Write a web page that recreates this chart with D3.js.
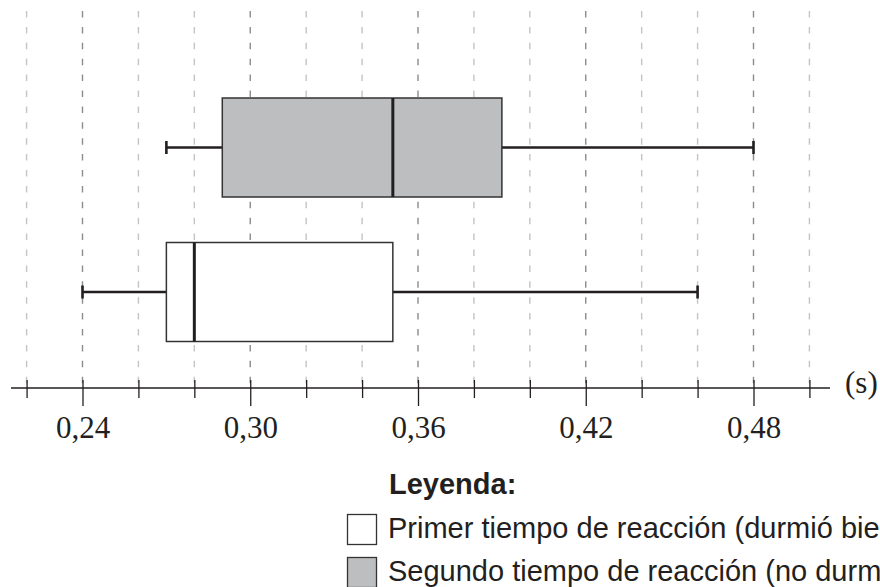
<!DOCTYPE html>
<html>
<head>
<meta charset="utf-8">
<script src="https://cdn.jsdelivr.net/npm/d3@7"></script>
<style>
  html, body { margin: 0; padding: 0; background: #fff; overflow: hidden; }
  svg { display: block; }
</style>
</head>
<body>
<script>
// data (seconds)
const groups = ['Segundo', 'Primer']
const mins = [0.27, 0.24]
const q1s = [0.29, 0.27]
const medians = [0.351, 0.28]
const q3s = [0.39, 0.351]
const maxs = [0.48, 0.46]
const fills = ['#bcbec0', '#ffffff']

const majorTicks = [0.24, 0.30, 0.36, 0.42, 0.48]
const allTicks = [0.22, 0.24, 0.26, 0.28, 0.30, 0.32, 0.34, 0.36, 0.38, 0.40, 0.42, 0.44, 0.46, 0.48, 0.50]

const legendTitle = 'Leyenda:'
const legendLabels = [
  'Primer tiempo de reacción (durmió bien)',
  'Segundo tiempo de reacción (no durmió bien)',
]
const legendFills = ['#ffffff', '#bcbec0']

const width = 880
const height = 587
const axisY = 388
const ink = '#231f20'

const svg = d3.select('body').append('svg')
  .attr('width', width)
  .attr('height', height)

const x = d3.scaleLinear().domain([0.24, 0.48]).range([82.5, 753.5])
const y = d3.scalePoint().domain(groups).range([147.5, 292])
const halfBox = 49.5

const isMajor = (v) => majorTicks.some((m) => Math.abs(m - v) < 1e-9)

// dashed grid
svg.append('g')
  .selectAll('line')
  .data(allTicks)
  .join('line')
  .attr('x1', (d) => x(d))
  .attr('x2', (d) => x(d))
  .attr('y1', 11)
  .attr('y2', axisY)
  .attr('stroke', (d) => (isMajor(d) ? '#8c8c8c' : '#c4c4c4'))
  .attr('stroke-width', 1.4)
  .attr('stroke-dasharray', '6.5 9.4')

// axis
svg.append('line')
  .attr('x1', 11).attr('x2', 830)
  .attr('y1', axisY).attr('y2', axisY)
  .attr('stroke', ink).attr('stroke-width', 1.3)

const axis = d3.axisBottom(x)
  .tickValues(allTicks)
  .tickSize(10)
  .tickFormat((d) => (isMajor(d) ? d3.format('.2f')(d).replace('.', ',') : ''))

const gAxis = svg.append('g')
  .attr('transform', `translate(0,${axisY})`)
  .call(axis)
gAxis.select('.domain').remove()
gAxis.selectAll('.tick line')
  .attr('y1', -8)
  .attr('y2', (d) => (isMajor(d) ? 18 : 10))
  .attr('stroke', ink)
  .attr('stroke-width', 1.3)
gAxis.selectAll('.tick text')
  .attr('y', 50)
  .attr('dy', 0)
  .attr('fill', ink)
  .style('font-family', '"Liberation Serif", "DejaVu Serif", serif')
  .style('font-size', '31px')

svg.append('text')
  .attr('x', 845).attr('y', 393)
  .attr('fill', ink)
  .style('font-family', '"Liberation Serif", serif')
  .style('font-size', '31px')
  .text('(s)')

// boxplots
const boxes = svg.append('g')
  .selectAll('g')
  .data(groups)
  .join('g')

boxes.append('line')
  .attr('x1', (d, i) => x(mins[i]))
  .attr('x2', (d, i) => x(maxs[i]))
  .attr('y1', (d) => y(d))
  .attr('y2', (d) => y(d))
  .attr('stroke', ink)
  .attr('stroke-width', 2.6)

boxes.selectAll('.cap')
  .data((d, i) => [mins[i], maxs[i]].map((v) => ({ v, g: d })))
  .join('line')
  .attr('class', 'cap')
  .attr('x1', (c) => x(c.v))
  .attr('x2', (c) => x(c.v))
  .attr('y1', (c) => y(c.g) - 6.5)
  .attr('y2', (c) => y(c.g) + 6.5)
  .attr('stroke', ink)
  .attr('stroke-width', 2.6)

boxes.append('rect')
  .attr('x', (d, i) => x(q1s[i]))
  .attr('width', (d, i) => x(q3s[i]) - x(q1s[i]))
  .attr('y', (d) => y(d) - halfBox)
  .attr('height', halfBox * 2)
  .attr('fill', (d, i) => fills[i])
  .attr('stroke', '#333')
  .attr('stroke-width', 1.5)

boxes.append('line')
  .attr('x1', (d, i) => x(medians[i]))
  .attr('x2', (d, i) => x(medians[i]))
  .attr('y1', (d) => y(d) - halfBox)
  .attr('y2', (d) => y(d) + halfBox)
  .attr('stroke', ink)
  .attr('stroke-width', 3)

// legend (runs past the right edge, as in the original)
const legend = svg.append('g')
legend.append('text')
  .attr('x', 389).attr('y', 494)
  .attr('fill', ink)
  .style('font-family', '"Liberation Sans", Arial, sans-serif')
  .style('font-size', '29px')
  .style('font-weight', 'bold')
  .text(legendTitle)

const items = legend.selectAll('.item')
  .data(legendLabels)
  .join('g')
  .attr('class', 'item')
  .attr('transform', (d, i) => `translate(0,${i * 43})`)

items.append('rect')
  .attr('x', 347.5).attr('y', 514.5)
  .attr('width', 29).attr('height', 30)
  .attr('fill', (d, i) => legendFills[i])
  .attr('stroke', '#333')
  .attr('stroke-width', 1.3)

items.append('text')
  .attr('x', 388).attr('y', 538)
  .attr('fill', ink)
  .style('font-family', '"Liberation Sans", Arial, sans-serif')
  .style('font-size', '29px')
  .text((d) => d)
</script>
</body>
</html>
